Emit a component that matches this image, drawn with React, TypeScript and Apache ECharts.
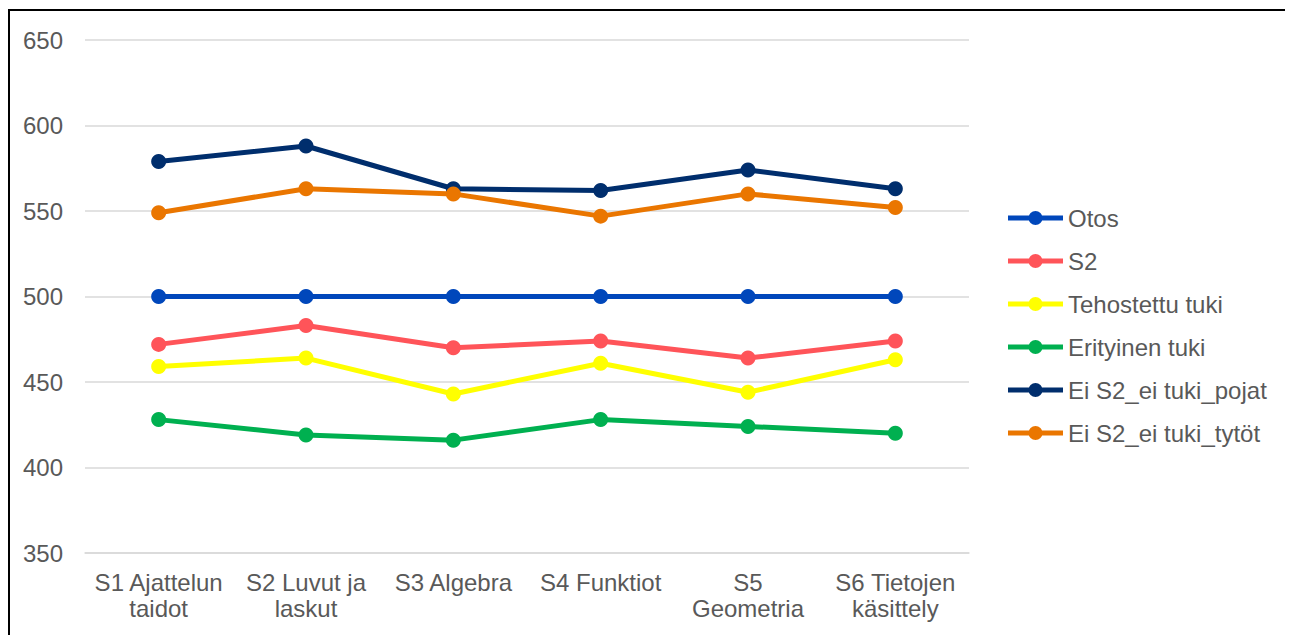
import React, { useEffect, useRef } from "react";
import * as echarts from "echarts";

const categories = [
  "S1 Ajattelun\ntaidot",
  "S2 Luvut ja\nlaskut",
  "S3 Algebra",
  "S4 Funktiot",
  "S5\nGeometria",
  "S6 Tietojen\nkäsittely",
];

const seriesNames = [
  "Otos",
  "S2",
  "Tehostettu tuki",
  "Erityinen tuki",
  "Ei S2_ei tuki_pojat",
  "Ei S2_ei tuki_tytöt",
];

const otos = [500, 500, 500, 500, 500, 500];
const s2 = [472, 483, 470, 474, 464, 474];
const tehostettu = [459, 464, 443, 461, 444, 463];
const erityinen = [428, 419, 416, 428, 424, 420];
const pojat = [579, 588, 563, 562, 574, 563];
const tytot = [549, 563, 560, 547, 560, 552];

const colors = ["#0047BB", "#FF5459", "#FFFF00", "#00B050", "#002E6D", "#EA7600"];

const legendIcon =
  "path://M0,4.5 L55,4.5 L55,9.5 L0,9.5 Z M20.5,7 A7,7 0 1,1 34.5,7 A7,7 0 1,1 20.5,7 Z";

export default function App() {
  const ref = useRef<HTMLDivElement>(null);
  useEffect(() => {
    if (!ref.current) return;
    const chart = echarts.init(ref.current, null, { renderer: "svg" });
    const data = [otos, s2, tehostettu, erityinen, pojat, tytot];
    const font = "'Liberation Sans', Arial, sans-serif";
    chart.setOption({
      animation: false,
      textStyle: { fontFamily: font },
      grid: { left: 75, top: 29, width: 884, height: 513, containLabel: false },
      legend: {
        orient: "vertical",
        left: 993,
        top: 190,
        itemWidth: 55,
        itemHeight: 14,
        itemGap: 19,
        icon: legendIcon,
        itemStyle: { borderWidth: 0 },
        textStyle: { fontSize: 24, lineHeight: 24, color: "#595959", fontFamily: font },
        data: seriesNames,
      },
      xAxis: {
        type: "category",
        data: categories,
        boundaryGap: true,
        axisLine: { show: true, lineStyle: { color: "#d9d9d9", width: 1.5 } },
        axisTick: { show: false },
        axisLabel: {
          fontSize: 24,
          color: "#595959",
          fontFamily: font,
          lineHeight: 26,
          margin: 16,
          interval: 0,
        },
      },
      yAxis: {
        type: "value",
        min: 350,
        max: 650,
        interval: 50,
        axisLine: { show: false },
        axisTick: { show: false },
        splitLine: { lineStyle: { color: "#d9d9d9", width: 1.5 } },
        axisLabel: { fontSize: 24, color: "#595959", fontFamily: font, margin: 22 },
      },
      series: seriesNames.map((name, i) => ({
        name,
        type: "line",
        data: data[i],
        symbol: "circle",
        symbolSize: 15,
        color: colors[i],
        lineStyle: { width: 5, color: colors[i] },
        itemStyle: { color: colors[i] },
      })),
    });
    return () => chart.dispose();
  }, []);
  return (
    <div
      style={{
        width: 1281,
        height: 640,
        marginTop: 1,
        border: "2px solid #000",
        boxSizing: "border-box",
        background: "#fff",
      }}
    >
      <div ref={ref} style={{ width: 1277, height: 636 }} />
    </div>
  );
}
